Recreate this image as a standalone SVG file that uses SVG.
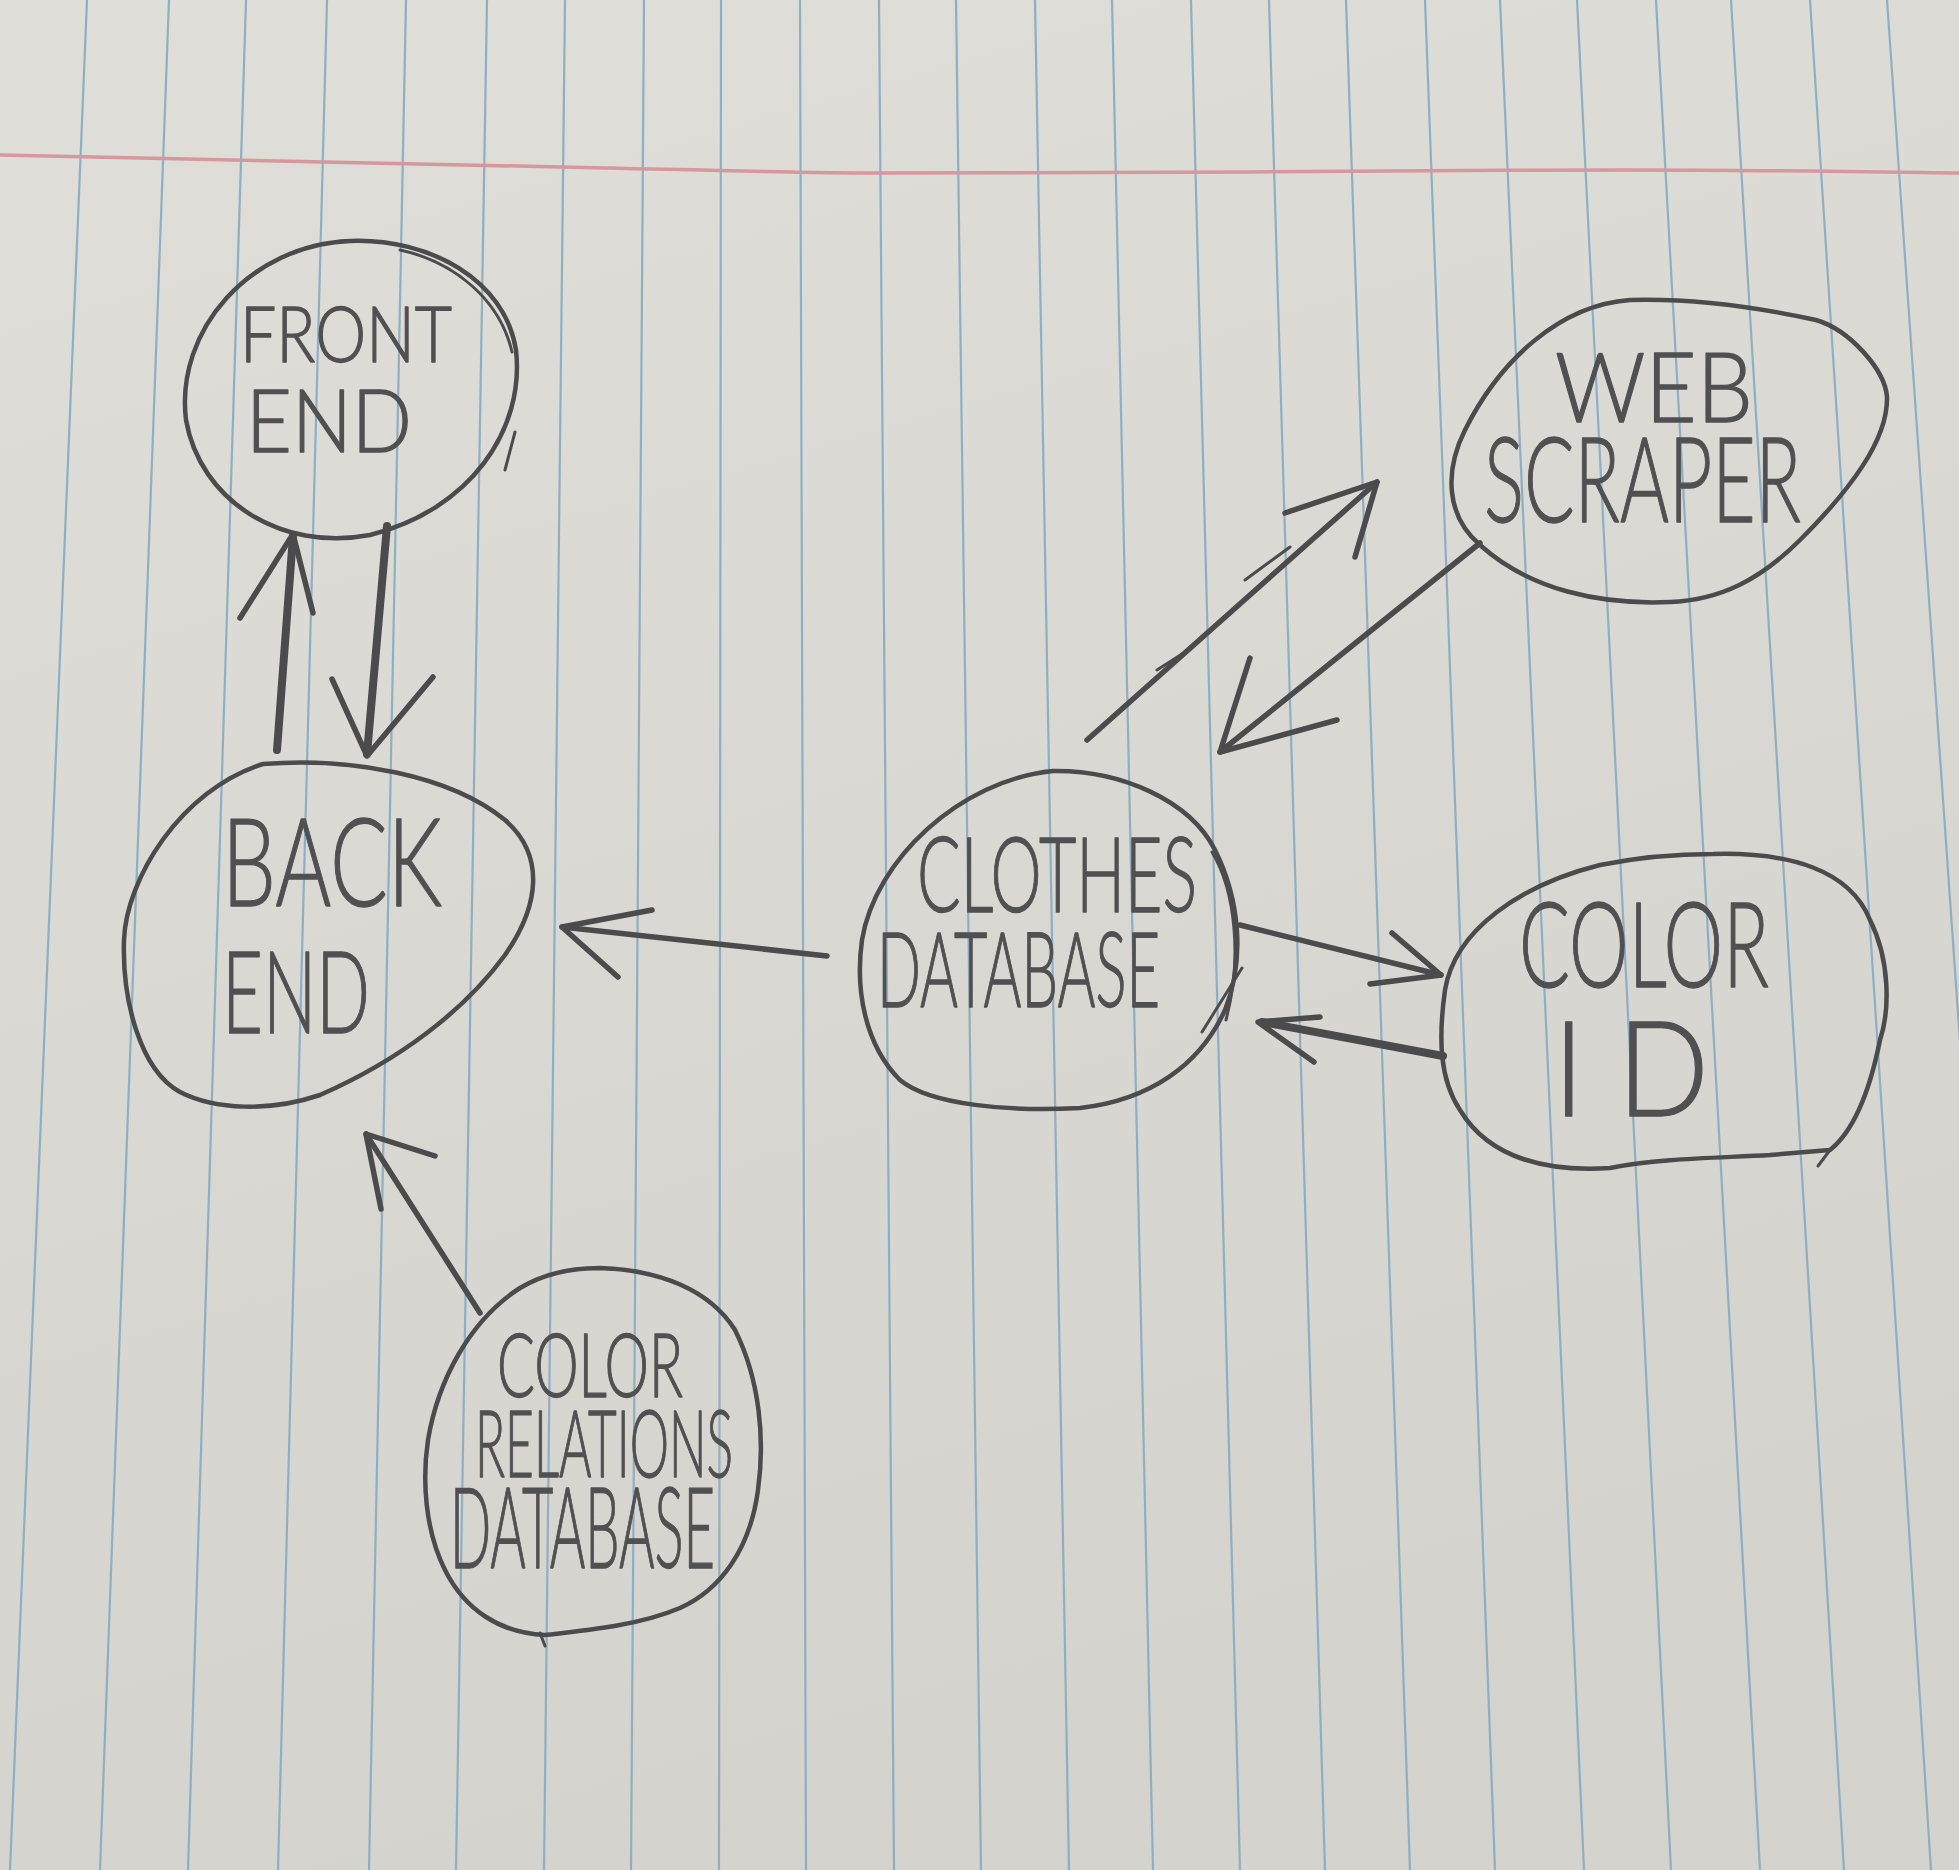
<svg xmlns="http://www.w3.org/2000/svg" width="1959" height="1870" viewBox="0 0 1959 1870">
<defs>
<linearGradient id="paperGrad" x1="0" y1="0" x2="0.3" y2="1">
<stop offset="0" stop-color="#e0ded8"/>
<stop offset="1" stop-color="#d4d3cd"/>
</linearGradient>
</defs>
<style>
.rule{stroke:#8eafc3;stroke-width:2.2;fill:none}
.margin{stroke:#d6979e;stroke-width:3.5;fill:none}
.ink{stroke:#4b4b4d;stroke-width:4.5;fill:none;stroke-linecap:round;stroke-linejoin:round}
.thin{stroke:#4b4b4d;stroke-width:3;fill:none;stroke-linecap:round}
.arrow{stroke:#4b4b4d;stroke-width:5.5;fill:none;stroke-linecap:round;stroke-linejoin:round}
.heavy{stroke:#4b4b4d;stroke-width:8;fill:none;stroke-linecap:round;stroke-linejoin:round}
.lbl{font-family:Lato,Inter,"Liberation Sans",sans-serif;font-weight:300;fill:#505052;stroke:#505052;stroke-width:1.3;stroke-linejoin:round}
</style>
<g id="paper">
<rect x="0" y="0" width="1959" height="1870" fill="url(#paperGrad)"/>
<path class="rule" d="M87 0L10 1870M169 0L100 1870M246 0L188 1870M327 0L278 1870M406 0L369 1870M487 0L456 1870M565 0L544 1870M644 0L631 1870M721 0L719 1870M800 0L806 1870M879 0L894 1870M956 0L981 1870M1035 0L1069 1870M1112 0L1153 1870M1191 0L1240 1870M1269 0L1325 1870M1346 0L1410 1870M1425 0L1495 1870M1500 0L1584 1870M1577 0L1671 1870M1656 0L1760 1870M1731 0L1844 1870M1810 0L1931 1870M1887 0L2018 1870"/>
<path class="margin" d="M0 155 C200 158 400 164 562 167 C700 170 800 173 875 173 C1000 173 1150 172 1250 172 C1400 171 1500 170 1625 170 C1750 170 1880 172 1959 173"/>
</g>
<g id="connectors">
<g id="back-to-front">
<path class="heavy" d="M277 750 L293 536"/>
<path class="arrow" d="M240 618 L293 534 L313 613"/>
</g>
<g id="front-to-back">
<path class="heavy" d="M387 526 L367 754"/>
<path class="arrow" d="M332 679 L367 756 L433 677"/>
</g>
<g id="clothes-to-back">
<path class="arrow" d="M827 956 L562 927"/>
<path class="arrow" d="M652 910 L562 927 L618 977"/>
</g>
<g id="relations-to-back">
<path class="arrow" d="M480 1313 L366 1134"/>
<path class="arrow" d="M435 1156 L366 1134 L381 1209"/>
</g>
<g id="clothes-to-scraper">
<path class="arrow" d="M1087 740 L1377 482"/>
<path class="thin" d="M1157 670 L1182 654 M1245 580 L1290 547"/>
<path class="arrow" d="M1285 513 L1377 482 L1355 557"/>
</g>
<g id="scraper-to-clothes">
<path class="arrow" d="M1480 543 L1220 752"/>
<path class="arrow" d="M1250 658 L1220 752 L1337 720"/>
</g>
<g id="clothes-to-colorid">
<path class="arrow" d="M1240 925 L1441 975"/>
<path class="arrow" d="M1392 933 L1441 975 L1370 984"/>
</g>
<g id="colorid-to-clothes">
<path class="heavy" d="M1443 1056 L1262 1022"/>
<path class="arrow" d="M1320 1017 L1258 1022 L1314 1062"/>
</g>
</g>
<g id="node-front-end">
<path class="ink" d="M350 241 C430 238 505 280 516 350 C525 430 470 510 370 535 C280 552 200 500 186 420 C175 330 250 245 350 241 Z"/>
<path class="thin" d="M400 250 C455 262 500 300 512 352 M515 432 L505 470"/>
<text class="lbl"><tspan x="240" y="362" font-size="76" textLength="212" lengthAdjust="spacingAndGlyphs">FRONT</tspan><tspan x="246" y="452" font-size="86" textLength="166" lengthAdjust="spacingAndGlyphs">END</tspan></text>
</g>
<g id="node-back-end">
<path class="ink" d="M263 764 C350 757 450 775 505 820 C545 855 540 905 505 955 C465 1010 400 1060 320 1095 C270 1112 215 1110 180 1092 C140 1070 122 1000 124 940 C126 880 180 790 263 764 Z"/>
<text class="lbl"><tspan x="222" y="906" font-size="122" textLength="220" lengthAdjust="spacingAndGlyphs">BACK</tspan><tspan x="222" y="1033" font-size="115" textLength="148" lengthAdjust="spacingAndGlyphs">END</tspan></text>
</g>
<g id="node-clothes-database">
<path class="ink" d="M1053 771 C1120 770 1190 800 1215 850 C1240 900 1245 960 1225 1010 C1200 1065 1150 1100 1080 1108 C1010 1112 930 1105 900 1080 C865 1045 855 990 862 940 C875 860 960 780 1053 771 Z"/>
<path class="thin" d="M1212 852 C1236 892 1242 960 1226 1020 M1242 968 L1202 1032"/>
<text class="lbl"><tspan x="917" y="912" font-size="104" textLength="280" lengthAdjust="spacingAndGlyphs">CLOTHES</tspan><tspan x="877" y="1007" font-size="104" textLength="283" lengthAdjust="spacingAndGlyphs">DATABASE</tspan></text>
</g>
<g id="node-web-scraper">
<path class="ink" d="M1630 300 C1700 298 1770 310 1816 320 C1850 330 1885 370 1887 397 C1888 440 1850 490 1800 540 C1760 580 1720 600 1670 602 C1600 605 1530 590 1480 545 C1445 515 1445 470 1465 430 C1500 360 1560 305 1630 300 Z"/>
<text class="lbl"><tspan x="1555" y="422" font-size="97" textLength="198" lengthAdjust="spacingAndGlyphs">WEB</tspan><tspan x="1484" y="522" font-size="118" textLength="317" lengthAdjust="spacingAndGlyphs">SCRAPER</tspan></text>
</g>
<g id="node-color-id">
<path class="ink" d="M1713 854 C1790 852 1850 870 1870 920 C1890 960 1890 1010 1880 1040 C1870 1090 1855 1130 1830 1150 L1770 1155 C1720 1158 1660 1158 1610 1168 C1550 1172 1490 1160 1460 1110 C1440 1080 1438 1040 1445 990 C1455 930 1520 885 1600 865 C1640 857 1680 854 1713 854 Z"/>
<path class="thin" d="M1830 1150 L1818 1166"/>
<text class="lbl"><tspan x="1519" y="987" font-size="118" textLength="250" lengthAdjust="spacingAndGlyphs">COLOR</tspan><tspan x="1553" y="1116" font-size="132" textLength="156" lengthAdjust="spacingAndGlyphs">I D</tspan></text>
</g>
<g id="node-color-relations-database">
<path class="ink" d="M600 1268 C660 1270 710 1290 735 1330 C760 1380 765 1440 758 1490 C750 1550 720 1590 680 1608 C640 1625 590 1630 545 1635 C500 1633 465 1610 445 1570 C425 1530 422 1480 428 1440 C438 1380 470 1320 520 1288 C545 1273 575 1268 600 1268 Z"/>
<path class="thin" d="M540 1633 L545 1646"/>
<text class="lbl"><tspan x="497" y="1397" font-size="89" textLength="186" lengthAdjust="spacingAndGlyphs">COLOR</tspan><tspan x="475" y="1477" font-size="93" textLength="258" lengthAdjust="spacingAndGlyphs">RELATIONS</tspan><tspan x="450" y="1568" font-size="112" textLength="265" lengthAdjust="spacingAndGlyphs">DATABASE</tspan></text>
</g>
</svg>
